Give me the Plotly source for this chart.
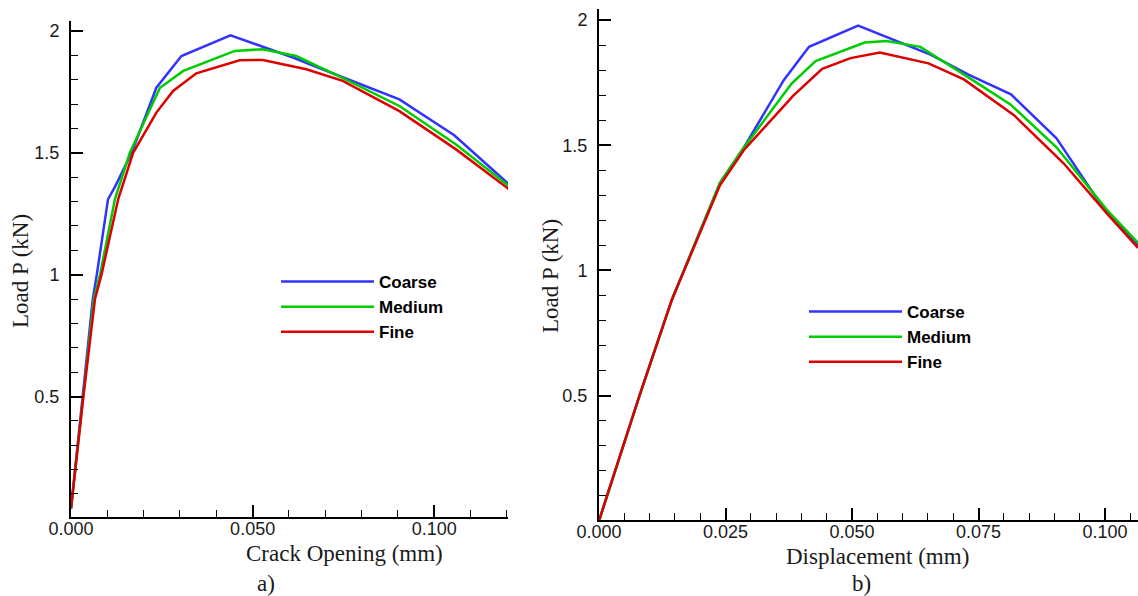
import plotly.graph_objects as go

# ---------------- data: panel a) load vs crack opening ----------------
coarse_a_x = [0.0, 0.0033, 0.0060, 0.0071, 0.0102, 0.0121, 0.0167, 0.0235, 0.0304, 0.0439, 0.0611, 0.0739, 0.0904, 0.1055, 0.1206]
coarse_a_y = [0.04, 0.50, 0.90, 1.00, 1.31, 1.36, 1.50, 1.767, 1.897, 1.982, 1.891, 1.815, 1.719, 1.572, 1.370]
medium_a_x = [0.0, 0.0034, 0.0063, 0.0080, 0.0121, 0.0162, 0.0245, 0.0309, 0.0451, 0.0528, 0.0620, 0.0750, 0.0904, 0.1060, 0.1206]
medium_a_y = [0.04, 0.50, 0.90, 1.00, 1.31, 1.50, 1.767, 1.836, 1.918, 1.925, 1.897, 1.805, 1.692, 1.534, 1.363]
fine_a_x = [0.0, 0.0034, 0.0066, 0.0084, 0.0130, 0.0171, 0.0235, 0.0281, 0.0345, 0.0464, 0.0528, 0.0648, 0.0748, 0.0904, 0.1060, 0.1206]
fine_a_y = [0.04, 0.50, 0.90, 1.00, 1.31, 1.50, 1.665, 1.754, 1.826, 1.880, 1.881, 1.843, 1.795, 1.671, 1.514, 1.350]

# ---------------- data: panel b) load vs displacement ----------------
coarse_b_x = [0.0, 0.0080, 0.0144, 0.0239, 0.0286, 0.0365, 0.0415, 0.0512, 0.0655, 0.0730, 0.0814, 0.0904, 0.1003, 0.1065]
coarse_b_y = [0.0, 0.50, 0.883, 1.35, 1.49, 1.760, 1.893, 1.978, 1.862, 1.782, 1.703, 1.528, 1.229, 1.10]
medium_b_x = [0.0, 0.0080, 0.0144, 0.0239, 0.0286, 0.0380, 0.0428, 0.0525, 0.0568, 0.0635, 0.0736, 0.0813, 0.0904, 0.1003, 0.1065]
medium_b_y = [0.0, 0.50, 0.883, 1.35, 1.49, 1.745, 1.836, 1.910, 1.916, 1.893, 1.763, 1.663, 1.492, 1.243, 1.11]
fine_b_x = [0.0, 0.0080, 0.0144, 0.0239, 0.0286, 0.0384, 0.0441, 0.0497, 0.0555, 0.0651, 0.0721, 0.0820, 0.0918, 0.1003, 0.1065]
fine_b_y = [0.0, 0.50, 0.883, 1.34, 1.48, 1.698, 1.805, 1.848, 1.870, 1.827, 1.763, 1.620, 1.428, 1.229, 1.09]

series_names = ["Coarse", "Medium", "Fine"]
series_colors = ["#3333ff", "#00cc00", "#dd0000"]

x_ticks_a = [0.0, 0.05, 0.1]
x_ticks_b = [0.0, 0.025, 0.05, 0.075, 0.1]
y_ticks = [0.5, 1.0, 1.5, 2.0]
y_ticktext = ["0.5", "1", "1.5", "2"]

W, H = 1138, 596

fig = go.Figure()

panel_a = [(coarse_a_x, coarse_a_y), (medium_a_x, medium_a_y), (fine_a_x, fine_a_y)]
panel_b = [(coarse_b_x, coarse_b_y), (medium_b_x, medium_b_y), (fine_b_x, fine_b_y)]

for (xs, ys), name, col in zip(panel_a, series_names, series_colors):
    fig.add_trace(go.Scatter(x=xs, y=ys, mode="lines", name=name,
                             line=dict(color=col, width=2.5),
                             xaxis="x", yaxis="y", legend="legend"))
for (xs, ys), name, col in zip(panel_b, series_names, series_colors):
    fig.add_trace(go.Scatter(x=xs, y=ys, mode="lines", name=name,
                             line=dict(color=col, width=2.5),
                             xaxis="x2", yaxis="y2", legend="legend2"))

tickfont = dict(family="Liberation Sans, Arial, sans-serif", size=18, color="#1a1a1a")


def axis_common(**kw):
    d = dict(showline=True, linecolor="black", linewidth=2,
             ticks="inside", ticklen=12, tickwidth=2, tickcolor="black",
             showgrid=False, zeroline=False, tickfont=tickfont,
             automargin=False)
    d.update(kw)
    return d


minor_style = dict(ticks="inside", ticklen=7, tickwidth=1, tickcolor="black", showgrid=False)
legend_font = dict(family="Liberation Sans, Arial, sans-serif", size=17, color="black", weight="bold")

fig.update_layout(
    width=W, height=H, autosize=False,
    margin=dict(l=0, r=0, t=0, b=0, pad=0),
    paper_bgcolor="white", plot_bgcolor="white",
    xaxis=axis_common(domain=[71 / W, 508 / W], range=[0, 0.1203], anchor="y",
                      tickvals=x_ticks_a, tickformat=".3f", ticklabelstandoff=-6,
                      minor=dict(dtick=0.01, tick0=0, **minor_style)),
    yaxis=axis_common(domain=[1 - 517 / H, 1 - 20.7 / H], range=[0.0056, 2.042], anchor="x",
                      tickvals=y_ticks, ticktext=y_ticktext, ticklabelstandoff=6,
                      minor=dict(dtick=0.1, tick0=0, **minor_style)),
    xaxis2=axis_common(domain=[599 / W, 1.0], range=[0, 0.1065], anchor="y2",
                       tickvals=x_ticks_b, tickformat=".3f", ticklabelstandoff=-6,
                       minor=dict(dtick=0.005, tick0=0, **minor_style)),
    yaxis2=axis_common(domain=[1 - 520 / H, 1 - 9.3 / H], range=[0.003, 2.043], anchor="x2",
                       tickvals=y_ticks, ticktext=y_ticktext, ticklabelstandoff=6,
                       minor=dict(dtick=0.1, tick0=0, **minor_style)),
    legend=dict(x=276 / W, y=1 - 264 / H, xanchor="left", yanchor="top",
                bgcolor="rgba(0,0,0,0)", itemwidth=93, tracegroupgap=0, font=legend_font),
    legend2=dict(x=804 / W, y=1 - 294 / H, xanchor="left", yanchor="top",
                 bgcolor="rgba(0,0,0,0)", itemwidth=93, tracegroupgap=0, font=legend_font),
)

serif = dict(family="Liberation Serif, Times New Roman, serif", size=23, color="#1a1a1a")

annots = [
    dict(text="Load P (kN)", x=20 / W, y=1 - 271 / H, textangle=-90),
    dict(text="Load P (kN)", x=550 / W, y=1 - 276 / H, textangle=-90),
    dict(text="Crack Opening (mm)", x=344 / W, y=1 - 553 / H),
    dict(text="Displacement (mm)", x=877 / W, y=1 - 556 / H),
    dict(text="a)", x=266 / W, y=1 - 583 / H),
    dict(text="b)", x=861 / W, y=1 - 583 / H),
]
for a in annots:
    fig.add_annotation(xref="paper", yref="paper", showarrow=False,
                       xanchor="center", yanchor="middle", font=serif, **a)

fig.write_html("out.html", config={"displayModeBar": False},
               post_script="document.body.style.margin='0';document.body.style.overflow='hidden';")
